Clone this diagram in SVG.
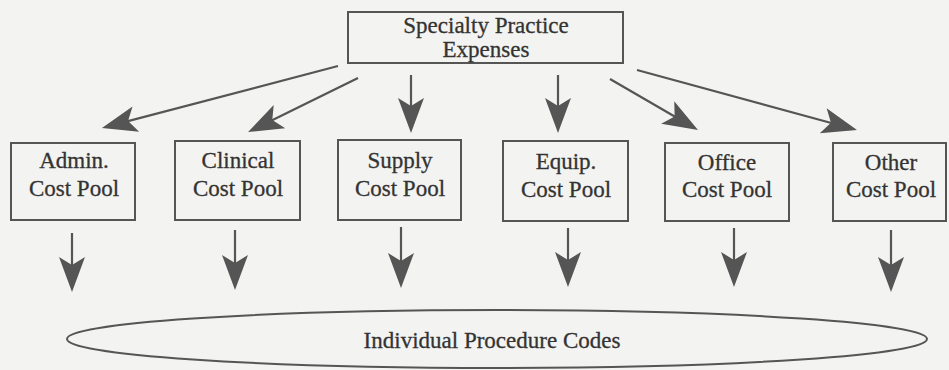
<svg xmlns="http://www.w3.org/2000/svg" width="949" height="370" viewBox="0 0 949 370">
  <style>
    .box { fill: none; stroke: #555; stroke-width: 2; }
    .lbl { font-family: "Liberation Serif", "Times New Roman", serif; font-size: 23px; fill: #333; stroke: #333; stroke-width: 0.3; text-anchor: middle; }
    .conn { stroke: #555; stroke-width: 2.2; fill: none; marker-end: url(#head); }
  </style>
  <defs>
    <marker id="head" markerUnits="userSpaceOnUse" viewBox="-16 -14 38 28" refX="0" refY="0" markerWidth="38" markerHeight="28" orient="auto" overflow="visible">
      <path d="M20,0 L-15,-13 L-7,0 L-15,13 Z" fill="#555"/>
    </marker>
  </defs>
  <rect x="0" y="0" width="949" height="370" fill="#f3f3f1"/>

  <g id="connectors">
    <line class="conn" x1="338" y1="66" x2="121.3" y2="122.9"/>
    <line class="conn" x1="358" y1="78" x2="266" y2="123.2"/>
    <line class="conn" x1="411" y1="75" x2="411" y2="113"/>
    <line class="conn" x1="558" y1="75" x2="558" y2="113"/>
    <line class="conn" x1="610" y1="79" x2="680.7" y2="120"/>
    <line class="conn" x1="637" y1="70" x2="837.7" y2="124.7"/>
    <line class="conn" x1="72" y1="233" x2="72" y2="272"/>
    <line class="conn" x1="235" y1="230" x2="235" y2="270"/>
    <line class="conn" x1="401" y1="227" x2="401" y2="268"/>
    <line class="conn" x1="568" y1="228" x2="568" y2="267"/>
    <line class="conn" x1="734" y1="228" x2="734" y2="267"/>
    <line class="conn" x1="891" y1="230" x2="891" y2="272"/>
  </g>

  <g id="specialty-practice-expenses">
    <rect class="box" x="348" y="12" width="275" height="51" stroke-width="2.5"/>
    <text class="lbl" x="486" y="33">Specialty Practice</text>
    <text class="lbl" x="486" y="57">Expenses</text>
  </g>

  <g id="admin-cost-pool">
    <rect class="box" x="11" y="143" width="124" height="77"/>
    <text class="lbl" x="74" y="168">Admin.</text>
    <text class="lbl" x="74" y="196">Cost Pool</text>
  </g>
  <g id="clinical-cost-pool">
    <rect class="box" x="175" y="141" width="125" height="79"/>
    <text class="lbl" x="238" y="168">Clinical</text>
    <text class="lbl" x="238" y="196">Cost Pool</text>
  </g>
  <g id="supply-cost-pool">
    <rect class="box" x="338" y="140" width="123" height="80"/>
    <text class="lbl" x="400" y="168">Supply</text>
    <text class="lbl" x="400" y="196">Cost Pool</text>
  </g>
  <g id="equip-cost-pool">
    <rect class="box" x="503" y="141" width="125" height="80"/>
    <text class="lbl" x="566" y="169">Equip.</text>
    <text class="lbl" x="566" y="197">Cost Pool</text>
  </g>
  <g id="office-cost-pool">
    <rect class="box" x="665" y="143" width="124" height="78"/>
    <text class="lbl" x="727" y="170">Office</text>
    <text class="lbl" x="727" y="197">Cost Pool</text>
  </g>
  <g id="other-cost-pool">
    <rect class="box" x="833" y="143" width="113" height="78"/>
    <text class="lbl" x="891" y="170">Other</text>
    <text class="lbl" x="891" y="197">Cost Pool</text>
  </g>

  <g id="individual-procedure-codes">
    <ellipse class="box" cx="497" cy="339" rx="430" ry="29"/>
    <text class="lbl" x="492" y="348">Individual Procedure Codes</text>
  </g>
</svg>
